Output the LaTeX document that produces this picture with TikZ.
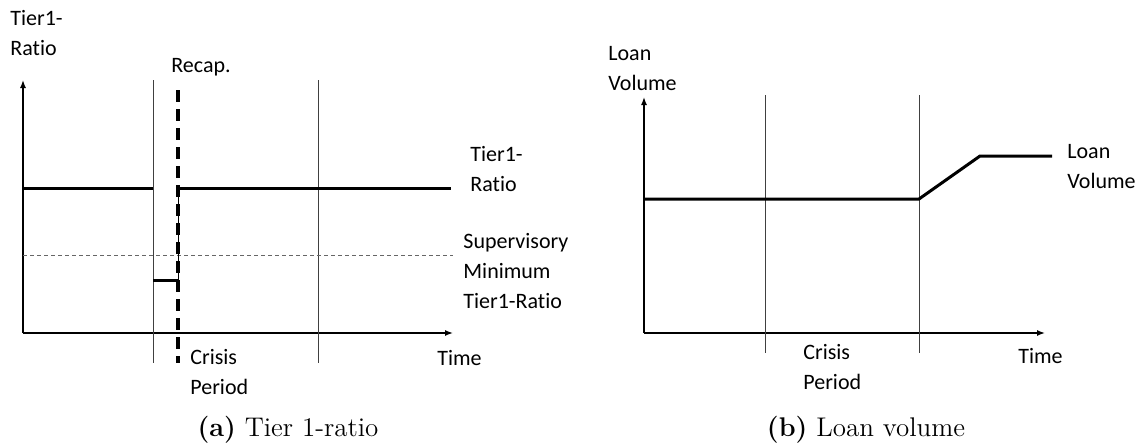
\documentclass[tikz,border=0pt]{standalone}
\usepackage{fontspec}
\newfontfamily\calibri[RawFeature={-liga;-clig;-calt;-dlig;-rlig}]{Carlito}
\usetikzlibrary{arrows.meta}
\tikzset{
  lbl/.style={anchor=west, inner sep=0pt, align=left, font=\calibri\fontsize{11}{15}\selectfont},
  axis/.style={-{Latex[length=4pt,width=3pt]}, line width=0.7pt},
  period/.style={line width=0.5pt, black!75},
  curve/.style={line width=1.5pt},
  minline/.style={line width=0.4pt, dash pattern=on 2pt off 1.5pt, black!60},
  recap/.style={line width=1.8pt, dash pattern=on 6pt off 3.5pt},
  subcap/.style={inner sep=0pt, font=\fontsize{13.5}{15}\selectfont}
}

\begin{document}
\begin{tikzpicture}[x=0.5pt, y=-0.5pt] % pixel grid, y downwards
    \useasboundingbox (0,0) rectangle (1136,445);

    % (a) Tier 1-ratio
    \coordinate (oA) at (23,333);
    \coordinate (yA) at (23,80);
    \coordinate (xA) at (453,333);
    \coordinate (pA1) at (153,80);
    \coordinate (pA1b) at (153,363);
    \coordinate (pA2) at (318,80);
    \coordinate (pA2b) at (318,363);
    \coordinate (rTop) at (178,90);
    \coordinate (rBot) at (178,363);
    \coordinate (tA1) at (23,188);
    \coordinate (tA2) at (153,188);
    \coordinate (tA3) at (178,188);
    \coordinate (tA4) at (451,188);
    \coordinate (lowA) at (153,280);
    \coordinate (lowB) at (178,280);
    \coordinate (mA1) at (23,255);
    \coordinate (mA2) at (453,255);
    \draw[axis] (oA) -- (yA);
    \draw[axis] (oA) -- (xA);
    \draw[period] (pA1) -- (pA1b);
    \draw[period] (pA2) -- (pA2b);
    \draw[minline] (mA1) -- (mA2);
    \draw[curve] (tA1) -- (tA2);
    \draw[curve] (tA3) -- (tA4);
    \draw[curve] (lowA) -- (lowB);
    \draw[line width=0.5pt] (lowB) -- (tA3);
    \draw[recap] (rTop) -- (rBot);
    \node (yLblA) at (10,33) [lbl] {Tier1-\\Ratio};
    \node (recapLbl) at (171,67) [lbl] {Recap.};
    \node (ratioLbl) at (470,169) [lbl] {Tier1-\\Ratio};
    \node (minLbl) at (463,271) [lbl] {Supervisory\\Minimum\\Tier1-Ratio};
    \node (crisisA) at (190,372) [lbl] {Crisis\\Period};
    \node (timeA) at (437,358) [lbl] {Time};
    \node (capA) at (288,430) [subcap] {\textbf{(a)} Tier 1-ratio};

    % (b) Loan volume
    \coordinate (oB) at (644,333);
    \coordinate (yB) at (644,97);
    \coordinate (xB) at (1045,333);
    \coordinate (pB1) at (765,95);
    \coordinate (pB1b) at (765,353);
    \coordinate (pB2) at (919,95);
    \coordinate (pB2b) at (919,353);
    \coordinate (vB1) at (644,199);
    \coordinate (vB2) at (919,199);
    \coordinate (vB3) at (980,156);
    \coordinate (vB4) at (1052,156);
    \draw[axis] (oB) -- (yB);
    \draw[axis] (oB) -- (xB);
    \draw[period] (pB1) -- (pB1b);
    \draw[period] (pB2) -- (pB2b);
    \draw[curve] (vB1) -- (vB2) -- (vB3) -- (vB4);
    \node (yLblB) at (608,69) [lbl] {Loan\\Volume};
    \node (volLbl) at (1067,167) [lbl] {Loan\\Volume};
    \node (crisisB) at (803,367) [lbl] {Crisis\\Period};
    \node (timeB) at (1018,356) [lbl] {Time};
    \node (capB) at (866,430) [subcap] {\textbf{(b)} Loan volume};
\end{tikzpicture}
\end{document}
